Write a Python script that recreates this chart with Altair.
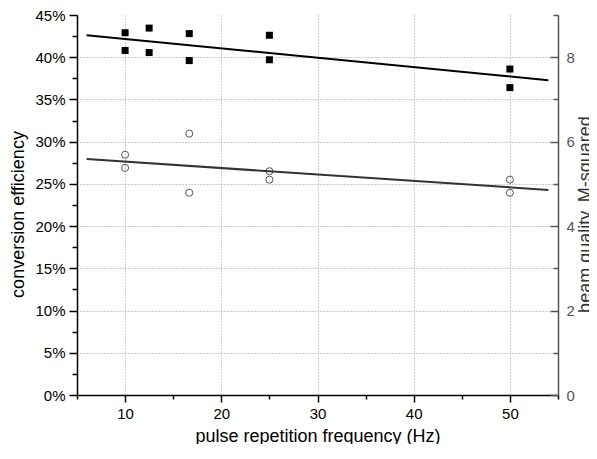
import altair as alt
import pandas as pd

# pulse repetition frequency (Hz) and conversion efficiency (fraction)
freq_sq = [10, 10, 12.5, 12.5, 16.67, 16.67, 25, 25, 50, 50]
eff = [0.429, 0.408, 0.4345, 0.4055, 0.428, 0.396, 0.426, 0.397, 0.386, 0.364]

# beam quality M-squared
freq_ci = [10, 10, 16.67, 16.67, 25, 25, 50, 50]
m2 = [5.69, 5.38, 6.19, 4.79, 5.30, 5.10, 5.10, 4.79]

x_major = [10, 20, 30, 40, 50]
x_minor = [5, 15, 25, 35, 45, 55]
yl_major = [0, 0.05, 0.10, 0.15, 0.20, 0.25, 0.30, 0.35, 0.40, 0.45]
yl_minor = [0.025, 0.075, 0.125, 0.175, 0.225, 0.275, 0.325, 0.375, 0.425]
yr_major = [0, 2, 4, 6, 8]
yr_minor = [1, 3, 5, 7, 9]

df_sq = pd.DataFrame({"f": freq_sq, "eff": eff})
df_ci = pd.DataFrame({"f": freq_ci, "m2": m2})

W, H = 481, 380
FONT = "Liberation Sans"
xs = alt.Scale(domain=[5, 55], nice=False, zero=False)
yls = alt.Scale(domain=[0, 0.45], nice=False)
yrs = alt.Scale(domain=[0, 9], nice=False)

x_main_axis = alt.Axis(values=x_major, orient="bottom", tickSize=7, labelPadding=4,
                       grid=True, gridDash=[1, 2], gridColor="#999", gridWidth=1,
                       title="pulse repetition frequency (Hz)", titleFontSize=18,
                       titleFontWeight="normal", titleBaseline="middle",
                       titleX=W / 2, titleY=41, titleColor="#000")
x_minor_axis = alt.Axis(values=x_minor, orient="bottom", tickSize=4, labels=False,
                        domain=False, grid=False, title=None)

yl_main_axis = alt.Axis(values=yl_major, orient="left", format=".0%", tickSize=8,
                        labelPadding=4, grid=True, gridDash=[1, 2], gridColor="#999",
                        gridOpacity=alt.condition("datum.value > 0.44 || datum.value < 0.01",
                                                  alt.value(0), alt.value(1)),
                        title="conversion efficiency", titleFontSize=18,
                        titleFontWeight="normal", titleBaseline="middle", titleAngle=270,
                        titleX=-59, titleY=199, titleColor="#000")
yl_minor_axis = alt.Axis(values=yl_minor, orient="left", tickSize=5, labels=False,
                         domain=False, grid=False, title=None)

yr_label_axis = alt.Axis(values=yr_major, orient="right", ticks=False, tickSize=0,
                         labelPadding=8, labelColor="#555", domainColor="#555",
                         grid=False, title="beam quality, M-squared", titleFontSize=18,
                         titleFontWeight="normal", titleBaseline="middle", titleAngle=270,
                         titleX=27, titleY=199, titleColor="#333")
yr_major_ticks = alt.Axis(values=yr_major, orient="left", offset=-W, tickSize=8,
                          tickColor="#555", labels=False, domain=False, grid=False, title=None)
yr_minor_ticks = alt.Axis(values=yr_minor, orient="left", offset=-W, tickSize=5,
                          tickColor="#555", labels=False, domain=False, grid=False, title=None)

squares = alt.Chart(df_sq).mark_point(shape="square", filled=True, color="#000",
                                      size=49, opacity=1).encode(
    x=alt.X("f:Q", scale=xs, axis=x_main_axis),
    y=alt.Y("eff:Q", scale=yls, axis=yl_main_axis),
)

sq_fit = alt.Chart(df_sq).transform_regression(
    "f", "eff", method="linear", extent=[6, 54]
).mark_line(color="#000", strokeWidth=2).encode(
    x=alt.X("f:Q", scale=xs, axis=x_minor_axis),
    y=alt.Y("eff:Q", scale=yls, axis=yl_minor_axis),
)

circles = alt.Chart(df_ci).mark_point(shape="circle", filled=False, color="#555",
                                      size=50, strokeWidth=1, opacity=1).encode(
    x=alt.X("f:Q", scale=xs, axis=None),
    y=alt.Y("m2:Q", scale=yrs, axis=yr_label_axis),
)

ci_fit = alt.Chart(df_ci).transform_regression(
    "f", "m2", method="linear", extent=[6, 54]
).mark_line(color="#333", strokeWidth=2).encode(
    x=alt.X("f:Q", scale=xs, axis=None),
    y=alt.Y("m2:Q", scale=yrs, axis=yr_major_ticks),
)

ci_ghost = alt.Chart(df_ci).mark_point(opacity=0).encode(
    x=alt.X("f:Q", scale=xs, axis=None),
    y=alt.Y("m2:Q", scale=yrs, axis=yr_minor_ticks),
)

chart = alt.layer(squares, sq_fit, circles, ci_fit, ci_ghost).resolve_scale(
    y="independent"
).resolve_axis(x="independent", y="independent").properties(
    width=W, height=H,
    autosize=alt.AutoSizeParams(type="none"),
    padding={"left": 69, "top": 7, "right": 31, "bottom": 49},
).configure_view(stroke=None).configure_axis(
    labelFont=FONT, titleFont=FONT, labelFontSize=15, labelColor="#000",
    domainColor="#000", domainWidth=1.5, tickColor="#000", tickWidth=1.5,
    labelFlush=False, labelOverlap=False,
)

chart.save("out.html", embed_options={"renderer": "svg", "actions": False})
